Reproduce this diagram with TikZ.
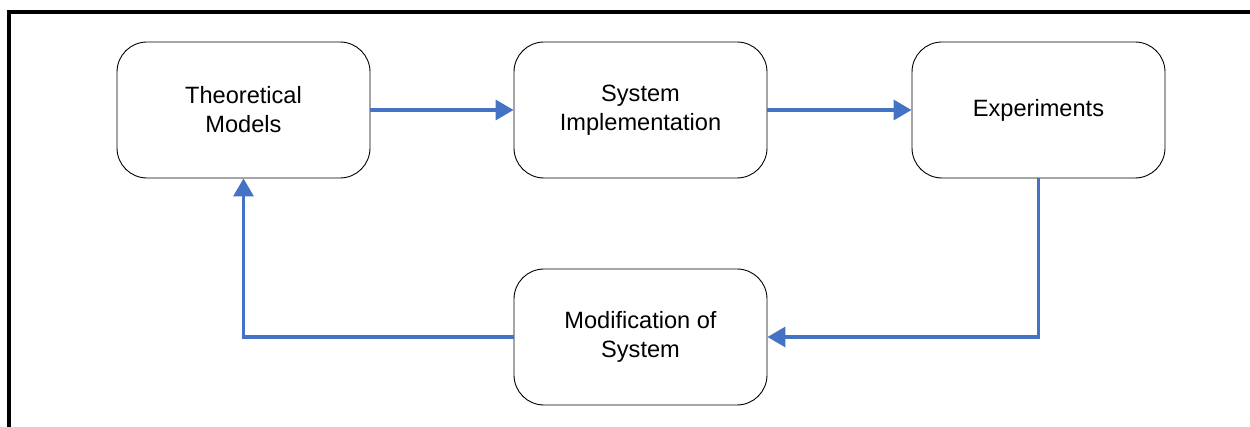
\documentclass[tikz,border=0pt]{standalone}
\usepackage{fontspec}
\setmainfont{Liberation Sans}
\usetikzlibrary{arrows.meta}
\definecolor{flowblue}{RGB}{68,114,196}
\begin{document}
\begin{tikzpicture}[x=1pt,y=-1pt,>={Triangle[length=18pt,width=20pt]},
        stage/.style={draw,line width=0.9pt,rounded corners=30pt,minimum width=253pt,
            minimum height=136pt,align=center,font=\fontsize{23.6}{29}\selectfont},
        flow/.style={->,draw=flowblue,line width=3.4pt}]
        \useasboundingbox (0,0) rectangle (1250,427);

        % draw the frame
        \draw[line width=4pt] (1250,12) -- (9,12) -- (9,427);

        % draw the stages
        \node[stage] (models) at (243.5,110) {Theoretical\\Models};
        \node[stage] (impl) at (640.5,110) {System\\Implementation};
        \node[stage] (exper) at (1038.5,110) {Experiments};
        \node[stage] (modif) at (640.5,337) {Modification of\\System};

        % arrows along the top
        \foreach \a/\b in {models/impl,impl/exper}
                \draw[flow] (\a) -- (\b);

        % feedback loop
        \draw[flow] (exper.south) |- (modif.east);
        \draw[flow] (modif.west) -| (models.south);
\end{tikzpicture}
\end{document}
